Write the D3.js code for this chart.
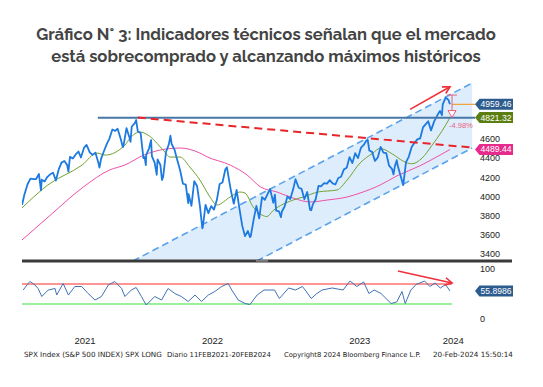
<!DOCTYPE html>
<html>
<head>
<meta charset="utf-8">
<script src="https://cdn.jsdelivr.net/npm/d3@7"></script>
<style>
  body { margin: 0; background: #fff; }
  svg { display: block; }
</style>
</head>
<body>
<div id="chart"></div>
<script>
// ---- data ----
const titleLines = [
  "Gráfico N° 3: Indicadores técnicos señalan que el mercado",
  "está sobrecomprado y alcanzando máximos históricos"
];

// S&P 500, approx. closes (weekly plus a few swing days)
const spx = [
  ["2021-03-26",3910],["2021-04-01",4020],["2021-04-09",4129],["2021-04-16",4185],["2021-04-23",4180],
  ["2021-04-30",4181],["2021-05-07",4233],["2021-05-12",4063],["2021-05-14",4174],["2021-05-21",4156],
  ["2021-05-28",4204],["2021-06-04",4230],["2021-06-11",4247],["2021-06-18",4166],["2021-06-25",4281],
  ["2021-07-02",4352],["2021-07-09",4370],["2021-07-16",4327],["2021-07-19",4258],["2021-07-23",4412],
  ["2021-07-30",4395],["2021-08-06",4437],["2021-08-13",4468],["2021-08-19",4406],["2021-08-27",4509],
  ["2021-09-02",4537],["2021-09-10",4459],["2021-09-17",4433],["2021-09-24",4455],["2021-10-01",4357],
  ["2021-10-04",4300],["2021-10-08",4391],["2021-10-15",4471],["2021-10-22",4545],["2021-10-29",4605],
  ["2021-11-05",4697],["2021-11-12",4683],["2021-11-18",4705],["2021-11-26",4595],["2021-12-01",4513],
  ["2021-12-03",4538],["2021-12-10",4712],["2021-12-17",4620],["2021-12-20",4568],["2021-12-23",4726],
  ["2021-12-31",4766],["2022-01-03",4796],["2022-01-07",4677],["2022-01-14",4662],["2022-01-21",4398],
  ["2022-01-24",4410],["2022-01-27",4326],["2022-01-28",4432],["2022-02-04",4501],["2022-02-09",4587],
  ["2022-02-11",4419],["2022-02-18",4349],["2022-02-23",4225],["2022-02-25",4385],["2022-03-04",4329],
  ["2022-03-08",4171],["2022-03-11",4204],["2022-03-18",4463],["2022-03-25",4543],["2022-03-29",4632],
  ["2022-04-01",4546],["2022-04-08",4488],["2022-04-14",4393],["2022-04-22",4272],["2022-04-29",4132],
  ["2022-05-06",4123],["2022-05-12",3930],["2022-05-13",4024],["2022-05-20",3901],["2022-05-27",4158],
  ["2022-06-03",4109],["2022-06-10",3901],["2022-06-16",3666],["2022-06-17",3675],["2022-06-24",3912],
  ["2022-07-01",3825],["2022-07-08",3899],["2022-07-15",3863],["2022-07-22",3962],["2022-07-29",4130],
  ["2022-08-05",4145],["2022-08-12",4280],["2022-08-16",4305],["2022-08-19",4228],["2022-08-26",4058],
  ["2022-09-02",3924],["2022-09-09",4067],["2022-09-16",3873],["2022-09-23",3693],["2022-09-30",3586],
  ["2022-10-07",3640],["2022-10-12",3577],["2022-10-14",3583],["2022-10-21",3753],["2022-10-28",3901],
  ["2022-11-04",3771],["2022-11-11",3993],["2022-11-18",3965],["2022-11-25",4026],["2022-12-01",4077],
  ["2022-12-09",3934],["2022-12-13",4019],["2022-12-16",3852],["2022-12-23",3845],["2022-12-28",3783],
  ["2022-12-30",3840],["2023-01-06",3895],["2023-01-13",3999],["2023-01-20",3973],["2023-01-27",4071],
  ["2023-02-02",4179],["2023-02-10",4090],["2023-02-17",4079],["2023-02-24",3970],["2023-03-03",4046],
  ["2023-03-10",3862],["2023-03-13",3855],["2023-03-17",3917],["2023-03-24",3971],["2023-03-31",4109],
  ["2023-04-06",4105],["2023-04-14",4138],["2023-04-21",4133],["2023-04-28",4169],["2023-05-05",4136],
  ["2023-05-12",4124],["2023-05-19",4192],["2023-05-26",4205],["2023-06-02",4282],["2023-06-09",4299],
  ["2023-06-16",4410],["2023-06-23",4348],["2023-06-30",4450],["2023-07-07",4399],["2023-07-14",4505],
  ["2023-07-21",4536],["2023-07-28",4582],["2023-07-31",4589],["2023-08-04",4478],["2023-08-11",4464],
  ["2023-08-18",4370],["2023-08-25",4406],["2023-09-01",4516],["2023-09-08",4457],["2023-09-15",4450],
  ["2023-09-22",4320],["2023-09-29",4288],["2023-10-03",4229],["2023-10-06",4308],["2023-10-11",4377],
  ["2023-10-13",4327],["2023-10-20",4224],["2023-10-27",4117],["2023-11-03",4358],["2023-11-10",4415],
  ["2023-11-17",4514],["2023-11-24",4559],["2023-12-01",4595],["2023-12-08",4604],["2023-12-15",4719],
  ["2023-12-22",4754],["2023-12-28",4783],["2024-01-04",4688],["2024-01-12",4784],["2024-01-19",4840],
  ["2024-01-26",4891],["2024-01-31",4846],["2024-02-02",4959],["2024-02-09",5027],["2024-02-12",5021],
  ["2024-02-16",5006],["2024-02-20",4960]
];

// 50-day moving average (green)
const ma50 = [
  ["2021-03-26",3880],["2021-05-29",4119],["2021-08-22",4327],["2021-09-28",4452],["2021-10-18",4431],
  ["2021-12-06",4535],["2021-12-19",4608],["2022-01-12",4671],["2022-02-01",4640],["2022-03-11",4483],
  ["2022-03-28",4410],["2022-04-22",4410],["2022-05-16",4306],["2022-06-10",4171],["2022-07-05",3994],
  ["2022-07-22",3910],["2022-08-24",3994],["2022-09-17",4046],["2022-09-30",4035],["2022-10-20",3890],
  ["2022-11-11",3806],["2022-11-23",3790],["2022-12-08",3850],["2023-01-27",3962],["2023-02-21",3994],
  ["2023-03-30",4046],["2023-05-16",4067],["2023-06-10",4171],["2023-07-12",4348],["2023-08-13",4452],
  ["2023-08-30",4500],["2023-10-01",4440],["2023-10-26",4370],["2023-11-17",4340],["2023-12-13",4400],
  ["2024-01-06",4530],["2024-01-31",4680],["2024-02-20",4821.32]
];

// 200-day moving average (pink)
const ma200 = [
  ["2021-03-26",3546],["2021-06-03",3800],["2021-08-25",4098],["2021-10-29",4275],["2021-12-06",4327],
  ["2022-01-22",4431],["2022-02-15",4466],["2022-03-03",4483],["2022-04-22",4504],["2022-06-10",4452],
  ["2022-06-27",4414],["2022-08-24",4327],["2022-10-05",4223],["2022-11-07",4100],["2022-12-18",4046],
  ["2023-01-27",3983],["2023-03-10",3942],["2023-04-21",3962],["2023-06-10",3994],["2023-07-12",4035],
  ["2023-08-31",4119],["2023-10-12",4215],["2023-12-08",4320],["2024-01-26",4430],["2024-02-20",4489.44]
];

// RSI (14)
const rsi = [
  ["2021-03-29",58],["2021-04-10",71],["2021-04-15",75],["2021-04-27",68],["2021-05-05",61],["2021-05-14",45],
  ["2021-05-30",58],["2021-06-16",61],["2021-06-20",48],["2021-07-06",71],["2021-07-19",48],["2021-08-04",65],
  ["2021-08-21",65],["2021-09-06",51],["2021-09-23",38],["2021-10-09",45],["2021-10-26",68],["2021-11-11",75],
  ["2021-11-28",61],["2021-12-06",45],["2021-12-22",58],["2022-01-03",63],["2022-01-16",45],["2022-01-28",28],
  ["2022-02-18",45],["2022-03-07",38],["2022-03-23",61],["2022-04-09",51],["2022-04-25",45],["2022-05-12",35],
  ["2022-05-29",48],["2022-06-14",35],["2022-07-01",48],["2022-07-17",55],["2022-08-03",65],["2022-08-19",71],
  ["2022-08-28",58],["2022-09-13",38],["2022-09-30",31],["2022-10-12",29],["2022-10-30",48],["2022-11-16",58],
  ["2022-12-12",58],["2022-12-24",41],["2023-01-16",62],["2023-02-02",58],["2023-02-19",65],["2023-02-26",58],
  ["2023-03-13",41],["2023-03-27",51],["2023-04-09",58],["2023-05-04",62],["2023-05-31",58],["2023-06-17",76],
  ["2023-07-04",65],["2023-07-21",74],["2023-08-03",51],["2023-08-16",58],["2023-09-02",51],["2023-09-27",31],
  ["2023-10-11",34],["2023-10-24",55],["2023-11-01",31],["2023-11-15",58],["2023-11-28",69],["2023-12-19",76],
  ["2024-01-01",65],["2024-01-14",72],["2024-01-27",62],["2024-02-09",69],["2024-02-20",55.8986]
];

// visible tick labels (4800, 5000 and 50 sit under the value tags)
const priceTicks = [3400, 3600, 3800, 4000, 4200, 4400, 4600];
const rsiTicks = [0, 100];
const yearTicks = ["2021-08-28", "2022-07-10", "2023-07-10", "2024-02-27"];

// trend channel, resistance and prior high (data units)
const channelUpper = [["2021-12-26",3327],["2024-04-15",5181]];
const channelLower = [["2022-10-29",3327],["2024-04-15",4504]];
const resistance   = [["2022-01-07",4822],["2024-04-15",4509]];
const priorHigh    = [["2021-09-30",4818.62],["2024-04-22",4818.62]];
const priceArrow   = [["2023-11-13",4907],["2024-02-20",5143]];
const rsiArrow     = [["2023-10-14",96],["2024-02-25",72]];
const rsiLevels    = [70, 30];
const drawdown     = { date: "2024-02-25", top: 5056, bottom: 4821.32, label: "-4.98%" };

const lastLabels = [
  { value: 4959.46, text: "4959.46", color: "#2c5b8e" },
  { value: 4821.32, text: "4821.32", color: "#5a7e12" },
  { value: 4489.44, text: "4489.44", color: "#e62b8c" }
];
const rsiLabel = { value: 55.8986, text: "55.8986", color: "#2c5b8e" };

const footer = [
  { text: "SPX Index (S&P 500 INDEX) SPX LONG", x: 24, w: 138 },
  { text: "Diario 11FEB2021-20FEB2024", x: 167, w: 104 },
  { text: "Copyright8 2024 Bloomberg Finance L.P.", x: 284, w: 137 },
  { text: "20-Feb-2024 15:50:14", x: 433, w: 80 }
];

// ---- chart ----
const W = 543, H = 387;
const parse = d3.timeParse("%Y-%m-%d");
const pts = arr => arr.map(d => ({ date: parse(d[0]), value: d[1] }));

const svg = d3.select("#chart").append("svg")
  .attr("width", W).attr("height", H)
  .style("font-family", "'Liberation Sans', Arial, sans-serif");

const x = d3.scaleTime()
  .domain([parse("2021-03-26"), parse("2024-02-20")])
  .range([22, 450]);
const y = d3.scaleLinear().domain([3327, 5213]).range([261, 80]);
const yR = d3.scaleLinear().domain([0, 100]).range([319, 269]);

// title
function fitText(sel, width) {
  const fs = parseFloat(sel.style("font-size"));
  const len = sel.node().getComputedTextLength();
  sel.style("font-size", (fs * width / len) + "px");
}
const titleWidths = [460, 430];
titleLines.forEach((t, i) => {
  const tx = svg.append("text")
    .attr("x", 266).attr("y", 40 + i * 22)
    .attr("text-anchor", "middle")
    .style("font-family", "Raleway, Lato, sans-serif")
    .style("font-weight", 700)
    .style("font-size", "16px")
    .attr("fill", "#444")
    .text(t);
  fitText(tx, titleWidths[i]);
});

svg.append("defs").append("clipPath").attr("id", "clip-main")
  .append("rect").attr("x", 22).attr("y", 78).attr("width", 453).attr("height", 183);

const main = svg.append("g").attr("clip-path", "url(#clip-main)");

const line = d3.line().x(d => x(d.date)).y(d => y(d.value));
const smooth = d3.line().x(d => x(d.date)).y(d => y(d.value)).curve(d3.curveMonotoneX);

// channel fill
const cu = pts(channelUpper), cl = pts(channelLower);
main.append("path")
  .attr("d", line([cu[0], cu[1], cl[1], cl[0]]) + "Z")
  .attr("fill", "#deedfb");
[cu, cl].forEach(seg => {
  main.append("path").attr("d", line(seg))
    .attr("fill", "none").attr("stroke", "#5aa2ee")
    .attr("stroke-width", 1.6).attr("stroke-dasharray", "7,4");
});

// moving averages
main.append("path").attr("d", smooth(pts(ma200)))
  .attr("fill", "none").attr("stroke", "#f04fa8").attr("stroke-width", 1);
main.append("path").attr("d", smooth(pts(ma50)))
  .attr("fill", "none").attr("stroke", "#73a030").attr("stroke-width", 1);

// price
main.append("path").attr("d", line(pts(spx)))
  .attr("fill", "none").attr("stroke", "#1d7ae0")
  .attr("stroke-width", 1.8).attr("stroke-linejoin", "round");

// prior high + resistance
main.append("path").attr("d", line(pts(priorHigh)))
  .attr("stroke", "#4776a8").attr("stroke-width", 2);
main.append("path").attr("d", line(pts(resistance)))
  .attr("stroke", "#e8262a").attr("stroke-width", 2).attr("stroke-dasharray", "8,5");

// arrows
function arrow(g, p0, p1, color) {
  g.append("line")
    .attr("x1", p0[0]).attr("y1", p0[1]).attr("x2", p1[0]).attr("y2", p1[1])
    .attr("stroke", color).attr("stroke-width", 1.6);
  const a = Math.atan2(p1[1] - p0[1], p1[0] - p0[0]);
  const L = 8, s = 0.5;
  const head = [
    [p1[0] - L * Math.cos(a - s), p1[1] - L * Math.sin(a - s)],
    p1,
    [p1[0] - L * Math.cos(a + s), p1[1] - L * Math.sin(a + s)]
  ];
  g.append("path").attr("d", d3.line()(head))
    .attr("fill", "none").attr("stroke", color).attr("stroke-width", 1.6);
}
const pa = pts(priceArrow);
arrow(svg, [x(pa[0].date), y(pa[0].value)], [x(pa[1].date), y(pa[1].value)], "#f0303a");

// drawdown bracket
const bx = x(parse(drawdown.date));
const last = pts(spx).slice(-1)[0];
svg.append("line")
  .attr("x1", x(last.date) + 2).attr("x2", 475)
  .attr("y1", y(lastLabels[0].value)).attr("y2", y(lastLabels[0].value))
  .attr("stroke", "#f0a030").attr("stroke-width", 1.2);
svg.append("line")
  .attr("x1", bx - 5).attr("x2", bx + 5)
  .attr("y1", y(drawdown.top)).attr("y2", y(drawdown.top))
  .attr("stroke", "#e8607c").attr("stroke-width", 1);
svg.append("line")
  .attr("x1", bx).attr("x2", bx)
  .attr("y1", y(drawdown.top)).attr("y2", y(drawdown.bottom) - 6)
  .attr("stroke", "#e8607c").attr("stroke-width", 1);
svg.append("path")
  .attr("d", `M${bx - 4},${y(drawdown.bottom) - 7}L${bx + 4},${y(drawdown.bottom) - 7}L${bx},${y(drawdown.bottom)}Z`)
  .attr("fill", "#fff").attr("stroke", "#e8607c").attr("stroke-width", 1);
svg.append("text")
  .attr("x", bx - 3).attr("y", y(drawdown.bottom) + 10)
  .style("font-size", "7.5px").attr("fill", "#e8607c")
  .text(drawdown.label);

// price axis
const yAxis = svg.append("g").attr("transform", "translate(480,0)")
  .call(d3.axisRight(y).tickValues(priceTicks).tickSize(0).tickPadding(0).tickFormat(d3.format("d")));
yAxis.select(".domain").remove();
yAxis.selectAll("text").style("font-size", "9px").attr("fill", "#222")
  .style("font-family", "'Liberation Sans', Arial, sans-serif");

// value tags
function tag(yPos, text, color) {
  const g = svg.append("g");
  g.append("path")
    .attr("d", `M475,${yPos}L479.5,${yPos - 5.5}H513V${yPos + 5.5}H479.5Z`)
    .attr("fill", color);
  g.append("text")
    .attr("x", 496).attr("y", yPos).attr("dy", "0.35em")
    .attr("text-anchor", "middle")
    .style("font-size", "8.6px").attr("fill", "#fff")
    .text(text);
}
lastLabels.forEach(d => tag(y(d.value), d.text, d.color));

// separator
svg.append("rect").attr("x", 22).attr("y", 259.5).attr("width", 490).attr("height", 3).attr("fill", "#3a3a3a");
svg.append("rect").attr("x", 256).attr("y", 260.3).attr("width", 12).attr("height", 1.2).attr("fill", "#9a9a9a");

// RSI panel
const rsiColors = ["#ff2a2a", "#3be03b"];
rsiLevels.forEach((lv, i) => {
  svg.append("line")
    .attr("x1", 22).attr("x2", x(parse("2024-02-25")))
    .attr("y1", yR(lv)).attr("y2", yR(lv))
    .attr("stroke", rsiColors[i]).attr("stroke-width", 1.2);
});
svg.append("path")
  .attr("d", d3.line().x(d => x(d.date)).y(d => yR(d.value))(pts(rsi)))
  .attr("fill", "none").attr("stroke", "#3f72b5").attr("stroke-width", 1);

const ra = pts(rsiArrow);
arrow(svg, [x(ra[0].date), yR(ra[0].value)], [x(ra[1].date), yR(ra[1].value)], "#f0303a");

const rAxis = svg.append("g").attr("transform", "translate(480,0)")
  .call(d3.axisRight(yR).tickValues(rsiTicks).tickSize(0).tickPadding(0));
rAxis.select(".domain").remove();
rAxis.selectAll("text").style("font-size", "9px").attr("fill", "#222")
  .style("font-family", "'Liberation Sans', Arial, sans-serif");
tag(yR(rsiLabel.value), rsiLabel.text, rsiLabel.color);

// year labels
const xAxis = svg.append("g").attr("transform", "translate(0,337)")
  .call(d3.axisBottom(x).tickValues(yearTicks.map(parse)).tickSize(0).tickPadding(0)
    .tickFormat(d3.timeFormat("%Y")));
xAxis.select(".domain").remove();
xAxis.selectAll("text").style("font-size", "9.5px").attr("fill", "#222")
  .style("font-family", "'Liberation Sans', Arial, sans-serif");

// footer
footer.forEach(f => {
  const t = svg.append("text")
    .attr("x", f.x).attr("y", 357)
    .style("font-size", "7px").attr("fill", "#222")
    .style("font-family", "'DejaVu Sans', sans-serif")
    .text(f.text);
  fitText(t, f.w);
});
</script>
</body>
</html>
